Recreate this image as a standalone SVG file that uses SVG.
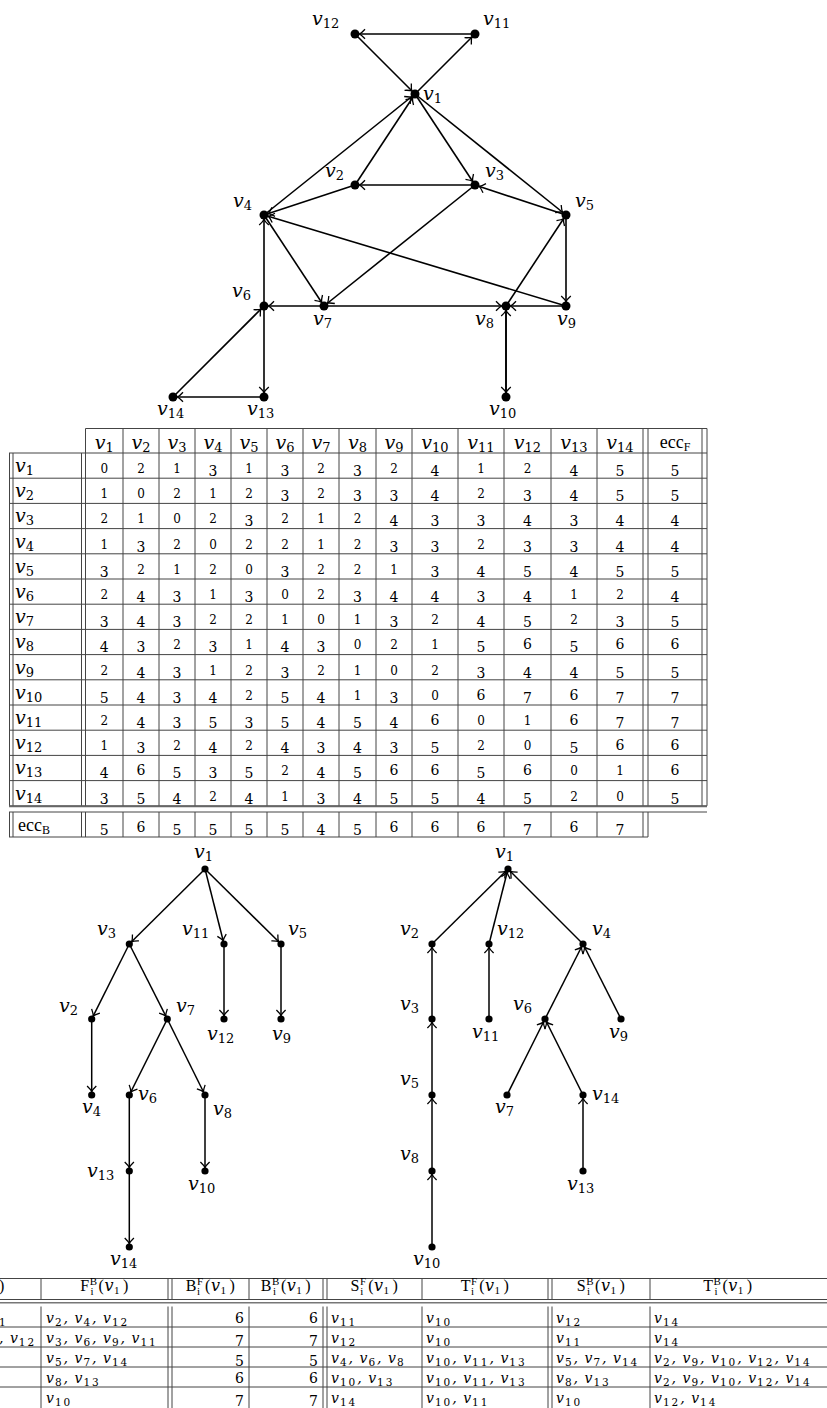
<svg xmlns="http://www.w3.org/2000/svg" width="827" height="1408" viewBox="0 0 827 1408">
<style>
text{font-family:"DejaVu Serif","Liberation Serif",serif;fill:#000}
.lb{font-size:19px;font-style:italic}
.lb tspan{font-style:normal;font-size:13px;baseline-shift:-3px}
.c{text-anchor:middle}
.dg{font-size:14px;text-anchor:middle}
.dg .s{font-size:12px}
.dg .l{baseline-shift:-3px}
.up{font-family:"Liberation Serif",serif;font-size:18px}
.up tspan{font-size:12px;baseline-shift:-3px}
.e{stroke:#000;stroke-width:1.6;fill:none;marker-end:url(#ah)}
.t{stroke:#000;stroke-width:1.5;fill:none;marker-end:url(#ah2)}
.grid{stroke:#444;stroke-width:1;fill:none}
.hd{font-family:"Liberation Serif",serif;font-size:16px;text-anchor:middle;letter-spacing:0.5px}
.hd .sp{font-size:11px;baseline-shift:6px}
.hd .sb{font-size:11px;baseline-shift:-4px}
.hd .it{font-family:"DejaVu Serif",serif;font-style:italic}
.hd .s1{font-size:11px;baseline-shift:-3px}
.bt{font-size:14px;font-style:italic;letter-spacing:1px}
.bt tspan{font-style:normal;font-size:10.5px;baseline-shift:-3px;letter-spacing:2px}
.nm{font-size:14px;text-anchor:end}
.nm .l{baseline-shift:-3px}
</style>
<defs>
<marker id="ah" markerUnits="userSpaceOnUse" orient="auto" markerWidth="12" markerHeight="12" refX="4.5" refY="0" overflow="visible">
<path d="M-5.5,-4.8 Q-2,-1 0,0 Q-2,1 -5.5,4.8" fill="none" stroke="#000" stroke-width="1.3"/>
</marker>
<marker id="ah2" markerUnits="userSpaceOnUse" orient="auto" markerWidth="12" markerHeight="12" refX="3.5" refY="0" overflow="visible">
<path d="M-5.5,-4.6 Q-2,-1 0,0 Q-2,1 -5.5,4.6" fill="none" stroke="#000" stroke-width="1.3"/>
</marker>
</defs>
<rect width="827" height="1408" fill="#fff"/>

<!-- directed graph: edges -->
<g id="graph-edges">
<line class="e" x1="415" y1="94" x2="475" y2="185"/>
<line class="e" x1="415" y1="94" x2="566" y2="215"/>
<line class="e" x1="415" y1="94" x2="475" y2="34"/>
<line class="e" x1="355" y1="185" x2="415" y2="94"/>
<line class="e" x1="355" y1="185" x2="264" y2="215"/>
<line class="e" x1="475" y1="185" x2="355" y2="185"/>
<line class="e" x1="475" y1="185" x2="324" y2="306"/>
<line class="e" x1="264" y1="215" x2="415" y2="94"/>
<line class="e" x1="264" y1="215" x2="324" y2="306"/>
<line class="e" x1="566" y1="215" x2="475" y2="185"/>
<line class="e" x1="566" y1="215" x2="566" y2="306"/>
<line class="e" x1="264" y1="306" x2="264" y2="215"/>
<line class="e" x1="264" y1="306" x2="264" y2="397"/>
<line class="e" x1="324" y1="306" x2="264" y2="306"/>
<line class="e" x1="324" y1="306" x2="506" y2="306"/>
<line class="e" x1="506" y1="306" x2="566" y2="215"/>
<line class="e" x1="506" y1="306" x2="506" y2="397"/>
<line class="e" x1="566" y1="306" x2="264" y2="215"/>
<line class="e" x1="566" y1="306" x2="506" y2="306"/>
<line class="e" x1="506" y1="397" x2="506" y2="306"/>
<line class="e" x1="475" y1="34" x2="355" y2="34"/>
<line class="e" x1="355" y1="34" x2="415" y2="94"/>
<line class="e" x1="264" y1="397" x2="173" y2="397"/>
<line class="e" x1="173" y1="397" x2="264" y2="306"/>
</g>

<!-- directed graph: nodes -->
<g id="v1"><circle cx="415" cy="94" r="4.5"/><text class="lb" x="423" y="100">v<tspan>1</tspan></text></g>
<g id="v2"><circle cx="355" cy="185" r="4.5"/><text class="lb" x="325" y="177">v<tspan>2</tspan></text></g>
<g id="v3"><circle cx="475" cy="185" r="4.5"/><text class="lb" x="485" y="177">v<tspan>3</tspan></text></g>
<g id="v4"><circle cx="264" cy="215" r="4.5"/><text class="lb" x="233" y="207">v<tspan>4</tspan></text></g>
<g id="v5"><circle cx="566" cy="215" r="4.5"/><text class="lb" x="575" y="207">v<tspan>5</tspan></text></g>
<g id="v6"><circle cx="264" cy="306" r="4.5"/><text class="lb" x="232" y="297">v<tspan>6</tspan></text></g>
<g id="v7"><circle cx="324" cy="306" r="4.5"/><text class="lb" x="313" y="325">v<tspan>7</tspan></text></g>
<g id="v8"><circle cx="506" cy="306" r="4.5"/><text class="lb" x="475" y="325">v<tspan>8</tspan></text></g>
<g id="v9"><circle cx="566" cy="306" r="4.5"/><text class="lb" x="557" y="325">v<tspan>9</tspan></text></g>
<g id="v10"><circle cx="506" cy="397" r="4.5"/><text class="lb" x="489" y="415">v<tspan>10</tspan></text></g>
<g id="v11"><circle cx="475" cy="34" r="4.5"/><text class="lb" x="483" y="25">v<tspan>11</tspan></text></g>
<g id="v12"><circle cx="355" cy="34" r="4.5"/><text class="lb" x="312" y="25">v<tspan>12</tspan></text></g>
<g id="v13"><circle cx="264" cy="397" r="4.5"/><text class="lb" x="247" y="415">v<tspan>13</tspan></text></g>
<g id="v14"><circle cx="173" cy="397" r="4.5"/><text class="lb" x="157" y="415">v<tspan>14</tspan></text></g>

<!-- distance table -->
<g id="dist-table">
<path class="grid" d="M85.5 428.5H707M9 453H707M9 478.2H707M9 503.4H707M9 528.6H707M9 553.8H707M9 579H707M9 604.2H707M9 629.4H707M9 654.6H707M9 679.8H707M9 705H707M9 730.2H707M9 755.4H707M9 780.6H707M9 805.8H707M9 812H707M9 837H648"/>
<path class="grid" d="M85.5 428.5V805.8M123 428.5V805.8M159 428.5V805.8M195 428.5V805.8M231 428.5V805.8M267 428.5V805.8M303 428.5V805.8M339 428.5V805.8M376 428.5V805.8M412 428.5V805.8M458 428.5V805.8M504 428.5V805.8M551 428.5V805.8M597 428.5V805.8M643 428.5V805.8M648 428.5V805.8M702 428.5V805.8M707 428.5V805.8M9.5 453V805.8M13 453V805.8M81.5 453V805.8"/>
<path class="grid" d="M9.5 812V837M13 812V837M81.5 812V837M85.5 812V837M123 812V837M159 812V837M195 812V837M231 812V837M267 812V837M303 812V837M339 812V837M376 812V837M412 812V837M458 812V837M504 812V837M551 812V837M597 812V837M643 812V837M648 812V837"/>
<path d="M9 806.5H707" stroke="#666" stroke-width="1.5"/>

<text class="lb c" x="104.3" y="449">v<tspan>1</tspan></text>
<text class="lb c" x="141" y="449">v<tspan>2</tspan></text>
<text class="lb c" x="177" y="449">v<tspan>3</tspan></text>
<text class="lb c" x="213" y="449">v<tspan>4</tspan></text>
<text class="lb c" x="249" y="449">v<tspan>5</tspan></text>
<text class="lb c" x="285" y="449">v<tspan>6</tspan></text>
<text class="lb c" x="321" y="449">v<tspan>7</tspan></text>
<text class="lb c" x="357.5" y="449">v<tspan>8</tspan></text>
<text class="lb c" x="394" y="449">v<tspan>9</tspan></text>
<text class="lb c" x="435" y="449">v<tspan>10</tspan></text>
<text class="lb c" x="481" y="449">v<tspan>11</tspan></text>
<text class="lb c" x="527.5" y="449">v<tspan>12</tspan></text>
<text class="lb c" x="574" y="449">v<tspan>13</tspan></text>
<text class="lb c" x="620" y="449">v<tspan>14</tspan></text>
<text class="up c" x="675" y="448">ecc<tspan>F</tspan></text>

<text class="lb" x="15" y="472">v<tspan>1</tspan></text>
<text class="lb" x="15" y="497.2">v<tspan>2</tspan></text>
<text class="lb" x="15" y="522.4">v<tspan>3</tspan></text>
<text class="lb" x="15" y="547.6">v<tspan>4</tspan></text>
<text class="lb" x="15" y="572.8">v<tspan>5</tspan></text>
<text class="lb" x="15" y="598">v<tspan>6</tspan></text>
<text class="lb" x="15" y="623.2">v<tspan>7</tspan></text>
<text class="lb" x="15" y="648.4">v<tspan>8</tspan></text>
<text class="lb" x="15" y="673.6">v<tspan>9</tspan></text>
<text class="lb" x="15" y="698.8">v<tspan>10</tspan></text>
<text class="lb" x="15" y="724">v<tspan>11</tspan></text>
<text class="lb" x="15" y="749.2">v<tspan>12</tspan></text>
<text class="lb" x="15" y="774.4">v<tspan>13</tspan></text>
<text class="lb" x="15" y="799.6">v<tspan>14</tspan></text>
<text class="up" x="18" y="831">ecc<tspan>B</tspan></text>

<text class="dg" x="104.3 141 177 213 249 285 321 357.5 394 435 481 527.5 574 620 675" y="473"><tspan class="s">021</tspan><tspan class="l">3</tspan><tspan class="s">1</tspan><tspan class="l">3</tspan><tspan class="s">2</tspan><tspan class="l">3</tspan><tspan class="s">2</tspan><tspan class="l">4</tspan><tspan class="s">12</tspan><tspan class="l">455</tspan></text>
<text class="dg" x="104.3 141 177 213 249 285 321 357.5 394 435 481 527.5 574 620 675" y="498.2"><tspan class="s">10212</tspan><tspan class="l">3</tspan><tspan class="s">2</tspan><tspan class="l">334</tspan><tspan class="s">2</tspan><tspan class="l">3455</tspan></text>
<text class="dg" x="104.3 141 177 213 249 285 321 357.5 394 435 481 527.5 574 620 675" y="523.4"><tspan class="s">2102</tspan><tspan class="l">3</tspan><tspan class="s">212</tspan><tspan class="l">4334344</tspan></text>
<text class="dg" x="104.3 141 177 213 249 285 321 357.5 394 435 481 527.5 574 620 675" y="548.6"><tspan class="s">1</tspan><tspan class="l">3</tspan><tspan class="s">202212</tspan><tspan class="l">33</tspan><tspan class="s">2</tspan><tspan class="l">3344</tspan></text>
<text class="dg" x="104.3 141 177 213 249 285 321 357.5 394 435 481 527.5 574 620 675" y="573.8"><tspan class="l">3</tspan><tspan class="s">2120</tspan><tspan class="l">3</tspan><tspan class="s">221</tspan><tspan class="l">345455</tspan></text>
<text class="dg" x="104.3 141 177 213 249 285 321 357.5 394 435 481 527.5 574 620 675" y="599"><tspan class="s">2</tspan><tspan class="l">43</tspan><tspan class="s">1</tspan><tspan class="l">3</tspan><tspan class="s">02</tspan><tspan class="l">34434</tspan><tspan class="s">12</tspan><tspan class="l">4</tspan></text>
<text class="dg" x="104.3 141 177 213 249 285 321 357.5 394 435 481 527.5 574 620 675" y="624.2"><tspan class="l">343</tspan><tspan class="s">22101</tspan><tspan class="l">3</tspan><tspan class="s">2</tspan><tspan class="l">45</tspan><tspan class="s">2</tspan><tspan class="l">35</tspan></text>
<text class="dg" x="104.3 141 177 213 249 285 321 357.5 394 435 481 527.5 574 620 675" y="649.4"><tspan class="l">43</tspan><tspan class="s">2</tspan><tspan class="l">3</tspan><tspan class="s">1</tspan><tspan class="l">43</tspan><tspan class="s">021</tspan><tspan class="l">5</tspan>6<tspan class="l">5</tspan>66</text>
<text class="dg" x="104.3 141 177 213 249 285 321 357.5 394 435 481 527.5 574 620 675" y="674.6"><tspan class="s">2</tspan><tspan class="l">43</tspan><tspan class="s">12</tspan><tspan class="l">3</tspan><tspan class="s">2102</tspan><tspan class="l">34455</tspan></text>
<text class="dg" x="104.3 141 177 213 249 285 321 357.5 394 435 481 527.5 574 620 675" y="699.8"><tspan class="l">5434</tspan><tspan class="s">2</tspan><tspan class="l">54</tspan><tspan class="s">1</tspan><tspan class="l">3</tspan><tspan class="s">0</tspan>6<tspan class="l">7</tspan>6<tspan class="l">77</tspan></text>
<text class="dg" x="104.3 141 177 213 249 285 321 357.5 394 435 481 527.5 574 620 675" y="725"><tspan class="s">2</tspan><tspan class="l">43535454</tspan>6<tspan class="s">01</tspan>6<tspan class="l">77</tspan></text>
<text class="dg" x="104.3 141 177 213 249 285 321 357.5 394 435 481 527.5 574 620 675" y="750.2"><tspan class="s">1</tspan><tspan class="l">3</tspan><tspan class="s">2</tspan><tspan class="l">4</tspan><tspan class="s">2</tspan><tspan class="l">43435</tspan><tspan class="s">20</tspan><tspan class="l">5</tspan>66</text>
<text class="dg" x="104.3 141 177 213 249 285 321 357.5 394 435 481 527.5 574 620 675" y="775.4"><tspan class="l">4</tspan>6<tspan class="l">535</tspan><tspan class="s">2</tspan><tspan class="l">45</tspan>66<tspan class="l">5</tspan>6<tspan class="s">01</tspan>6</text>
<text class="dg" x="104.3 141 177 213 249 285 321 357.5 394 435 481 527.5 574 620 675" y="800.6"><tspan class="l">354</tspan><tspan class="s">2</tspan><tspan class="l">4</tspan><tspan class="s">1</tspan><tspan class="l">345545</tspan><tspan class="s">20</tspan><tspan class="l">5</tspan></text>
<text class="dg" x="104.3 141 177 213 249 285 321 357.5 394 435 481 527.5 574 620" y="832"><tspan class="l">5</tspan>6<tspan class="l">555545</tspan>666<tspan class="l">7</tspan>6<tspan class="l">7</tspan></text>
</g>

<!-- forward BFS tree: edges -->
<g id="tree-f-edges">
<line class="t" x1="205" y1="869" x2="129.3" y2="944"/>
<line class="t" x1="205" y1="869" x2="224" y2="944"/>
<line class="t" x1="205" y1="869" x2="281" y2="944"/>
<line class="t" x1="129.3" y1="944" x2="91.7" y2="1019"/>
<line class="t" x1="129.3" y1="944" x2="167.3" y2="1019"/>
<line class="t" x1="224" y1="944" x2="224" y2="1019"/>
<line class="t" x1="281" y1="944" x2="281" y2="1019"/>
<line class="t" x1="91.7" y1="1019" x2="91.7" y2="1095"/>
<line class="t" x1="167.3" y1="1019" x2="129.3" y2="1095"/>
<line class="t" x1="167.3" y1="1019" x2="205" y2="1095"/>
<line class="t" x1="129.3" y1="1095" x2="129.3" y2="1171"/>
<line class="t" x1="205" y1="1095" x2="205" y2="1171"/>
<line class="t" x1="129.3" y1="1171" x2="129.3" y2="1247"/>
</g>
<g id="tf-v1"><circle cx="205" cy="869" r="3.6"/><text class="lb" x="194" y="858">v<tspan>1</tspan></text></g>
<g id="tf-v3"><circle cx="129.3" cy="944" r="3.6"/><text class="lb" x="97" y="935">v<tspan>3</tspan></text></g>
<g id="tf-v11"><circle cx="224" cy="944" r="3.6"/><text class="lb" x="182" y="935">v<tspan>11</tspan></text></g>
<g id="tf-v5"><circle cx="281" cy="944" r="3.6"/><text class="lb" x="288" y="935">v<tspan>5</tspan></text></g>
<g id="tf-v2"><circle cx="91.7" cy="1019" r="3.6"/><text class="lb" x="59" y="1012">v<tspan>2</tspan></text></g>
<g id="tf-v7"><circle cx="167.3" cy="1019" r="3.6"/><text class="lb" x="176" y="1012">v<tspan>7</tspan></text></g>
<g id="tf-v12"><circle cx="224" cy="1019" r="3.6"/><text class="lb" x="207" y="1040">v<tspan>12</tspan></text></g>
<g id="tf-v9"><circle cx="281" cy="1019" r="3.6"/><text class="lb" x="272" y="1040">v<tspan>9</tspan></text></g>
<g id="tf-v4"><circle cx="91.7" cy="1095" r="3.6"/><text class="lb" x="82" y="1113">v<tspan>4</tspan></text></g>
<g id="tf-v6"><circle cx="129.3" cy="1095" r="3.6"/><text class="lb" x="138" y="1100">v<tspan>6</tspan></text></g>
<g id="tf-v8"><circle cx="205" cy="1095" r="3.6"/><text class="lb" x="213" y="1115">v<tspan>8</tspan></text></g>
<g id="tf-v13"><circle cx="129.3" cy="1171" r="3.6"/><text class="lb" x="87" y="1177">v<tspan>13</tspan></text></g>
<g id="tf-v10"><circle cx="205" cy="1171" r="3.6"/><text class="lb" x="188" y="1190">v<tspan>10</tspan></text></g>
<g id="tf-v14"><circle cx="129.3" cy="1247" r="3.6"/><text class="lb" x="110" y="1265">v<tspan>14</tspan></text></g>

<!-- backward BFS tree: edges -->
<g id="tree-b-edges">
<line class="t" x1="432" y1="944" x2="508" y2="869"/>
<line class="t" x1="489" y1="944" x2="508" y2="869"/>
<line class="t" x1="583" y1="944" x2="508" y2="869"/>
<line class="t" x1="432" y1="1019" x2="432" y2="944"/>
<line class="t" x1="489" y1="1019" x2="489" y2="944"/>
<line class="t" x1="545" y1="1019" x2="583" y2="944"/>
<line class="t" x1="621" y1="1019" x2="583" y2="944"/>
<line class="t" x1="432" y1="1095" x2="432" y2="1019"/>
<line class="t" x1="507" y1="1095" x2="545" y2="1019"/>
<line class="t" x1="583" y1="1095" x2="545" y2="1019"/>
<line class="t" x1="432" y1="1171" x2="432" y2="1095"/>
<line class="t" x1="583" y1="1171" x2="583" y2="1095"/>
<line class="t" x1="432" y1="1247" x2="432" y2="1171"/>
</g>
<g id="tb-v1"><circle cx="508" cy="869" r="3.6"/><text class="lb" x="495" y="858">v<tspan>1</tspan></text></g>
<g id="tb-v2"><circle cx="432" cy="944" r="3.6"/><text class="lb" x="400" y="935">v<tspan>2</tspan></text></g>
<g id="tb-v12"><circle cx="489" cy="944" r="3.6"/><text class="lb" x="497" y="935">v<tspan>12</tspan></text></g>
<g id="tb-v4"><circle cx="583" cy="944" r="3.6"/><text class="lb" x="592" y="935">v<tspan>4</tspan></text></g>
<g id="tb-v3"><circle cx="432" cy="1019" r="3.6"/><text class="lb" x="400" y="1010">v<tspan>3</tspan></text></g>
<g id="tb-v11"><circle cx="489" cy="1019" r="3.6"/><text class="lb" x="472" y="1038">v<tspan>11</tspan></text></g>
<g id="tb-v6"><circle cx="545" cy="1019" r="3.6"/><text class="lb" x="513" y="1010">v<tspan>6</tspan></text></g>
<g id="tb-v9"><circle cx="621" cy="1019" r="3.6"/><text class="lb" x="609" y="1038">v<tspan>9</tspan></text></g>
<g id="tb-v5"><circle cx="432" cy="1095" r="3.6"/><text class="lb" x="400" y="1085">v<tspan>5</tspan></text></g>
<g id="tb-v7"><circle cx="507" cy="1095" r="3.6"/><text class="lb" x="495" y="1113">v<tspan>7</tspan></text></g>
<g id="tb-v14"><circle cx="583" cy="1095" r="3.6"/><text class="lb" x="592" y="1100">v<tspan>14</tspan></text></g>
<g id="tb-v8"><circle cx="432" cy="1171" r="3.6"/><text class="lb" x="400" y="1160">v<tspan>8</tspan></text></g>
<g id="tb-v13"><circle cx="583" cy="1171" r="3.6"/><text class="lb" x="567" y="1190">v<tspan>13</tspan></text></g>
<g id="tb-v10"><circle cx="432" cy="1247" r="3.6"/><text class="lb" x="413" y="1265">v<tspan>10</tspan></text></g>

<!-- level table -->
<g id="level-table">
<path class="grid" d="M0 1278.5H827M0 1299.5H827M0 1327H827M0 1347H827M0 1367H827M0 1387H827"/>
<path d="M0 1302.8H827" stroke="#777" stroke-width="1.6"/>
<path class="grid" d="M41 1278.5V1299.5M168 1278.5V1299.5M172 1278.5V1299.5M249 1278.5V1299.5M323 1278.5V1299.5M327 1278.5V1299.5M422 1278.5V1299.5M548 1278.5V1299.5M552 1278.5V1299.5M650 1278.5V1299.5M41 1306.5V1408M168 1306.5V1408M172 1306.5V1408M249 1306.5V1408M323 1306.5V1408M327 1306.5V1408M422 1306.5V1408M548 1306.5V1408M552 1306.5V1408M650 1306.5V1408"/>

<text class="hd" x="-1" y="1291" style="text-anchor:start">)</text>
<text class="hd" x="104.5" y="1291">F<tspan class="sp">B</tspan><tspan class="sb" dx="-7">i</tspan><tspan dx="4.5">(</tspan><tspan class="it">v</tspan><tspan class="s1">1</tspan><tspan dx="3">)</tspan></text>
<text class="hd" x="210.5" y="1291">B<tspan class="sp">F</tspan><tspan class="sb" dx="-6.5">i</tspan><tspan dx="4.5">(</tspan><tspan class="it">v</tspan><tspan class="s1">1</tspan><tspan dx="3">)</tspan></text>
<text class="hd" x="286" y="1291">B<tspan class="sp">B</tspan><tspan class="sb" dx="-7">i</tspan><tspan dx="4.5">(</tspan><tspan class="it">v</tspan><tspan class="s1">1</tspan><tspan dx="3">)</tspan></text>
<text class="hd" x="374.5" y="1291">S<tspan class="sp">F</tspan><tspan class="sb" dx="-6.5">i</tspan><tspan dx="4.5">(</tspan><tspan class="it">v</tspan><tspan class="s1">1</tspan><tspan dx="3">)</tspan></text>
<text class="hd" x="485" y="1291">T<tspan class="sp">F</tspan><tspan class="sb" dx="-6.5">i</tspan><tspan dx="4.5">(</tspan><tspan class="it">v</tspan><tspan class="s1">1</tspan><tspan dx="3">)</tspan></text>
<text class="hd" x="601" y="1291">S<tspan class="sp">B</tspan><tspan class="sb" dx="-7">i</tspan><tspan dx="4.5">(</tspan><tspan class="it">v</tspan><tspan class="s1">1</tspan><tspan dx="3">)</tspan></text>
<text class="hd" x="728" y="1291">T<tspan class="sp">B</tspan><tspan class="sb" dx="-7">i</tspan><tspan dx="4.5">(</tspan><tspan class="it">v</tspan><tspan class="s1">1</tspan><tspan dx="3">)</tspan></text>

<text class="bt" x="-1" y="1322.5"><tspan>1</tspan></text>
<text class="bt" x="-1" y="1342.5">, v<tspan>12</tspan></text>

<text class="bt" x="46" y="1322.5">v<tspan>2</tspan>, v<tspan>4</tspan>, v<tspan>12</tspan></text>
<text class="bt" x="46" y="1342.5">v<tspan>3</tspan>, v<tspan>6</tspan>, v<tspan>9</tspan>, v<tspan>11</tspan></text>
<text class="bt" x="46" y="1362.5">v<tspan>5</tspan>, v<tspan>7</tspan>, v<tspan>14</tspan></text>
<text class="bt" x="46" y="1382.5">v<tspan>8</tspan>, v<tspan>13</tspan></text>
<text class="bt" x="46" y="1402.5">v<tspan>10</tspan></text>

<text class="nm" x="244" y="1322.5">6</text>
<text class="nm" x="244" y="1342.5"><tspan class="l">7</tspan></text>
<text class="nm" x="244" y="1362.5"><tspan class="l">5</tspan></text>
<text class="nm" x="244" y="1382.5">6</text>
<text class="nm" x="244" y="1402.5"><tspan class="l">7</tspan></text>
<text class="nm" x="318" y="1322.5">6</text>
<text class="nm" x="318" y="1342.5"><tspan class="l">7</tspan></text>
<text class="nm" x="318" y="1362.5"><tspan class="l">5</tspan></text>
<text class="nm" x="318" y="1382.5">6</text>
<text class="nm" x="318" y="1402.5"><tspan class="l">7</tspan></text>

<text class="bt" x="331" y="1322.5">v<tspan>11</tspan></text>
<text class="bt" x="331" y="1342.5">v<tspan>12</tspan></text>
<text class="bt" x="331" y="1362.5">v<tspan>4</tspan>, v<tspan>6</tspan>, v<tspan>8</tspan></text>
<text class="bt" x="331" y="1382.5">v<tspan>10</tspan>, v<tspan>13</tspan></text>
<text class="bt" x="331" y="1402.5">v<tspan>14</tspan></text>

<text class="bt" x="426" y="1322.5">v<tspan>10</tspan></text>
<text class="bt" x="426" y="1342.5">v<tspan>10</tspan></text>
<text class="bt" x="426" y="1362.5">v<tspan>10</tspan>, v<tspan>11</tspan>, v<tspan>13</tspan></text>
<text class="bt" x="426" y="1382.5">v<tspan>10</tspan>, v<tspan>11</tspan>, v<tspan>13</tspan></text>
<text class="bt" x="426" y="1402.5">v<tspan>10</tspan>, v<tspan>11</tspan></text>

<text class="bt" x="556" y="1322.5">v<tspan>12</tspan></text>
<text class="bt" x="556" y="1342.5">v<tspan>11</tspan></text>
<text class="bt" x="556" y="1362.5">v<tspan>5</tspan>, v<tspan>7</tspan>, v<tspan>14</tspan></text>
<text class="bt" x="556" y="1382.5">v<tspan>8</tspan>, v<tspan>13</tspan></text>
<text class="bt" x="556" y="1402.5">v<tspan>10</tspan></text>

<text class="bt" x="654" y="1322.5">v<tspan>14</tspan></text>
<text class="bt" x="654" y="1342.5">v<tspan>14</tspan></text>
<text class="bt" x="654" y="1362.5">v<tspan>2</tspan>, v<tspan>9</tspan>, v<tspan>10</tspan>, v<tspan>12</tspan>, v<tspan>14</tspan></text>
<text class="bt" x="654" y="1382.5">v<tspan>2</tspan>, v<tspan>9</tspan>, v<tspan>10</tspan>, v<tspan>12</tspan>, v<tspan>14</tspan></text>
<text class="bt" x="654" y="1402.5">v<tspan>12</tspan>, v<tspan>14</tspan></text>
</g>
</svg>
